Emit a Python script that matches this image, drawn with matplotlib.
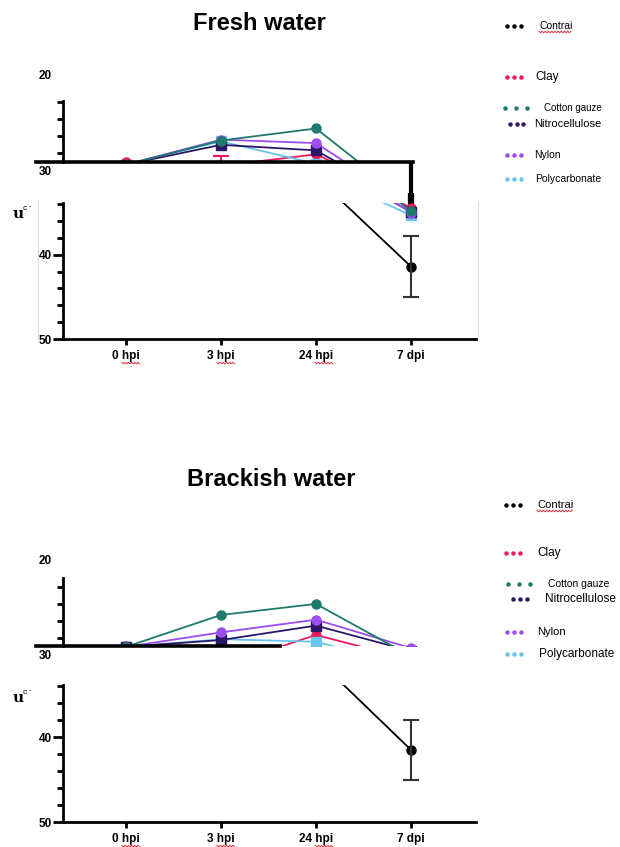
import numpy as np
import matplotlib
matplotlib.use("Agg")
import matplotlib.pyplot as plt
from matplotlib.lines import Line2D

plt.rcParams['font.family'] = ['Liberation Sans', 'DejaVu Sans']

# ---- data (Ct values) ----
times = ["0 hpi", "3 hpi", "24 hpi", "7 dpi"]
names = ["Contrai", "Clay", "Cotton gauze", "Nitrocellulose", "Nylon", "Polycarbonate"]
colors = ["#000000", "#ec1a5a", "#1d7a6c", "#2c1766", "#9d4ced", "#6cc4ee"]
markers = ["o", "o", "o", "s", "o", "s"]

fresh_control = [30.5, 30.6, 30.75, 41.4]
fresh_clay = [30.0, 30.46, 29.1, 34.4]
fresh_cotton = [30.3, 27.5, 26.1, 34.8]
fresh_nitro = [30.3, 28.0, 28.65, 34.9]
fresh_nylon = [30.3, 27.4, 27.8, 35.0]
fresh_poly = [30.3, 27.6, 30.2, 35.3]
fresh_control_err = [0, 0, 0, 3.6]
fresh_clay_err = [0, 1.2, 0, 0]

brack_control = [30.4, 30.5, 30.7, 41.5]
brack_clay = [30.0, 32.4, 28.7, 31.6]
brack_cotton = [30.1, 26.35, 25.05, 31.2]
brack_nitro = [30.1, 29.3, 27.6, 30.6]
brack_nylon = [30.1, 28.4, 26.9, 30.25]
brack_poly = [30.1, 29.2, 29.5, 32.4]
brack_control_err = [0, 0, 0, 3.5]

W, H = 620, 847
X0, STEP = 126, 95  # pixel of first category, pixels between categories


def box(x0, y0, x1, y1):
    return [x0 / W, 1 - y1 / H, (x1 - x0) / W, (y1 - y0) / H]


def xl(px):
    return (px - X0) / STEP


def fx(px):
    return px / W


def fy(py):
    return 1 - py / H


fig = plt.figure(figsize=(6.2, 8.47), dpi=100)


def draw_series(ax, series, errs):
    x = np.arange(len(times))
    order = [0, 1, 5, 3, 4, 2]
    for k in order:
        ax.plot(x, series[k], color=colors[k], marker=markers[k], ms=6.5, lw=1.3)
        e = np.array(errs[k], dtype=float)
        m = e > 0
        if m.any():
            ax.errorbar(x[m], np.array(series[k])[m], yerr=e[m], fmt='none',
                        ecolor=colors[k] if k else '#333333', elinewidth=1.5,
                        capsize=5.5, capthick=1.5)


def panel(top_y, low_y, top_lim, series, errs, title, title_xy, spine_end_px, ylab_y):
    # upper part of the broken axis
    ax = fig.add_axes(box(36, top_y[0], 476, top_y[1]))
    ax.set_xlim(xl(36), xl(476))
    ax.set_ylim(30, top_lim)
    ax.patch.set_alpha(0)
    draw_series(ax, series, errs)
    for s in ['top', 'right']:
        ax.spines[s].set_visible(False)
    ax.spines['left'].set_position(('data', xl(63)))
    ax.spines['left'].set_linewidth(2)
    ax.spines['bottom'].set_linewidth(2.6)
    ax.spines['bottom'].set_bounds(xl(36), xl(spine_end_px))
    ax.set_xticks([])
    ax.set_yticks([23, 25, 27, 29])
    ax.set_yticklabels([])
    ax.tick_params(axis='y', length=4, width=2)
    ax.text(xl(52), 20, "20", ha='right', va='center', fontsize=8.5, fontweight='bold', clip_on=False)
    ax.annotate("30", xy=(xl(52), 30), xytext=(0, -7.5), textcoords='offset points',
                ha='right', va='center', fontsize=8.5, fontweight='bold', annotation_clip=False)

    # lower part
    ax2 = fig.add_axes(box(63, low_y[0], 476, low_y[1]))
    ax2.set_xlim(xl(63), xl(476))
    ax2.set_ylim(50, 33.85)
    ax2.patch.set_alpha(0)
    draw_series(ax2, series, errs)
    for s in ['top', 'right']:
        ax2.spines[s].set_visible(False)
    ax2.spines['left'].set_linewidth(2)
    ax2.spines['bottom'].set_linewidth(2)
    ax2.set_yticks([40, 50])
    ax2.set_yticks([34, 36, 38, 42, 44, 46, 48], minor=True)
    ax2.tick_params(axis='y', which='major', length=7, width=2, labelsize=8.5, pad=1)
    ax2.tick_params(axis='y', which='minor', length=4, width=2)
    ax2.set_xticks(range(len(times)))
    ax2.set_xticklabels(times)
    ax2.tick_params(axis='x', length=4, width=2, labelsize=8.5, pad=4)
    for t in ax2.get_yticklabels() + ax2.get_xticklabels():
        t.set_fontweight('bold')

    fig.text(fx(title_xy[0]), fy(title_xy[1]), title, ha='center', va='center',
             fontsize=17, fontweight='bold')
    # garbled axis label
    fig.text(fx(13), fy(ylab_y), "u", family='DejaVu Serif', fontweight='bold',
             fontsize=11, va='baseline')
    fig.text(fx(23), fy(ylab_y - 8), "c", fontsize=6, va='baseline')
    fig.text(fx(29), fy(ylab_y - 10), "-", fontsize=5, va='baseline')
    return ax, ax2


fresh = [fresh_control, fresh_clay, fresh_cotton, fresh_nitro, fresh_nylon, fresh_poly]
fresh_errs = [fresh_control_err, fresh_clay_err, [0] * 4, [0] * 4, [0] * 4, [0] * 4]
brack = [brack_control, brack_clay, brack_cotton, brack_nitro, brack_nylon, brack_poly]
brack_errs = [brack_control_err] + [[0] * 4] * 5

a1, b1 = panel((101, 162), (203, 339), 22.9, fresh, fresh_errs, "Fresh water", (259, 23), 413, 218)
a2, b2 = panel((578, 646), (685, 822), 22.0, brack, brack_errs, "Brackish water", (271, 479), 280, 702)

# thick black bar hanging off the upper axis in the first panel
a1.plot([3, 3], [30, 34.0], color='k', lw=3, clip_on=False, solid_capstyle='butt', zorder=5)
a1.plot([3, 3], [33.6, 35.1], color='k', lw=4.5, clip_on=False, solid_capstyle='butt', zorder=5)

# faint frame lines around the first lower plot
for xp, y0, y1 in [(38, 200, 340), (478, 202, 337)]:
    fig.add_artist(Line2D([fx(xp), fx(xp)], [fy(y0), fy(y1)], color='#d9d9ef', lw=0.8))

# legends drawn as loose text
legend_rows = [
    [(507, 26, 539, 7.5, 7), (507, 77, 535, 8.5, 7), (505, 108, 544, 7, 11),
     (510, 124, 534, 8, 6.5), (507, 155, 534, 7.5, 7), (507, 179, 535, 7.5, 7)],
    [(506, 505, 537, 8, 7), (506, 553, 537, 8.5, 7), (508, 584, 548, 7.5, 11),
     (513, 599, 545, 8.5, 7), (507, 632, 537, 8, 7), (507, 654, 539, 8.5, 7)],
]
for rows in legend_rows:
    for k, (dx, y, tx, fs, gap) in enumerate(rows):
        xs = [fx(dx + i * gap) for i in range(3)]
        fig.add_artist(Line2D(xs, [fy(y)] * 3, ls='none', marker='o', ms=3.2,
                              color=colors[k], markeredgewidth=0))
        fig.text(fx(tx), fy(y), names[k], fontsize=fs, va='center')

fig.canvas.draw()
r = fig.canvas.get_renderer()


def squiggle(x0, x1, y):
    xs = np.arange(x0, x1, 1.6)
    ys = y + np.where(np.arange(len(xs)) % 2 == 0, -0.8, 0.8)
    fig.add_artist(Line2D(xs / W, 1 - ys / H, color='#e0303a', lw=0.7))


probe = fig.text(0, 0, "hpi", fontsize=8.5, fontweight='bold')
w_hpi = probe.get_window_extent(r).width
probe.remove()
for ax in (b1, b2):
    for t in ax.get_xticklabels():
        if "hpi" in t.get_text():
            bb = t.get_window_extent(r)
            squiggle(bb.x1 - w_hpi, bb.x1, H - bb.y0 + 1)
for t in fig.texts:
    if t.get_text() == "Contrai":
        bb = t.get_window_extent(r)
        squiggle(bb.x0, bb.x1, H - bb.y0 + 1)

fig.savefig("out.png", dpi=100)
